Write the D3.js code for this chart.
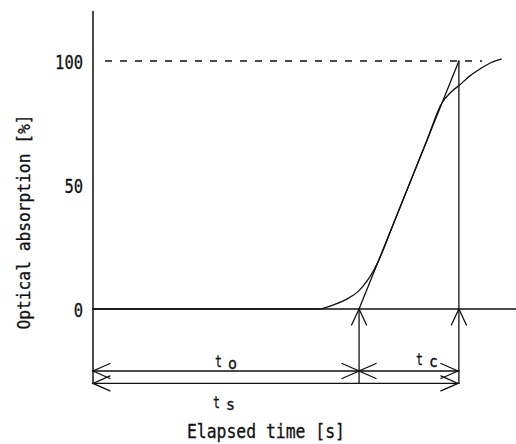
<!DOCTYPE html>
<html>
<head>
<meta charset="utf-8">
<script src="https://cdn.jsdelivr.net/npm/d3@7"></script>
<style>
  html, body { margin: 0; padding: 0; background: #fff; }
  svg { display: block; }
  text { font-family: "DejaVu Sans Mono", monospace; fill: #111; }
</style>
</head>
<body>
<svg id="chart" width="516" height="444"></svg>
<script>
// ---- data ----
const yTicks = [0, 50, 100];
// elapsed time (arbitrary units) and optical absorption [%] of the measured curve
const curveTime = [0, 53.2, 56.7, 60.0, 62.6, 64.8, 66.4, 67.6, 71.0, 74.9, 78.7, 82.5, 84.6, 86.8, 89.1, 91.5, 93.9, 96.5];
const curveAbs  = [0, 0,    1.6,  4.0,  6.9,  11.3, 15.7, 19.8, 34.2, 50.8, 66.9, 83.1, 87.4, 90.5, 94.0, 96.8, 99.2, 100.8];
// tangent line through the linear part
const tangentTime = [62.9, 86.5];
const tangentAbs  = [0, 100];
// characteristic times
const tO = 62.9;   // end of t_o
const tC = 86.5;   // end of t_c (= end of t_s)
const saturation = 100;
const labels = { yTitle: "Optical absorption [%]", xTitle: "Elapsed time [s]" };

// ---- layout ----
const svg = d3.select("#chart");
const x = d3.scaleLinear().domain([0, 100]).range([93, 516]);
const y = d3.scaleLinear().domain([-30, 120]).range([383.4, 11.4]);
const ink = "#111";
const sw = 1.3;

const g = svg.append("g").attr("fill", "none").attr("stroke", ink).attr("stroke-width", sw).attr("stroke-linecap", "round");

// y axis labels (no tick marks)
const yAxis = d3.axisLeft(y).tickValues(yTicks).tickSize(0).tickPadding(10).tickFormat(d3.format("d"));
const ag = svg.append("g").attr("transform", `translate(${x(0)},0)`).call(yAxis);
ag.select(".domain").remove();
ag.selectAll("text")
  .attr("font-family", "DejaVu Sans Mono, monospace")
  .attr("font-size", 19)
  .attr("fill", ink)
  .attr("stroke", ink).attr("stroke-width", 0.3)
  .attr("dy", "0.38em")
  .attr("textLength", d => String(d).length * 9.3)
  .attr("lengthAdjust", "spacingAndGlyphs");

// vertical axis line
g.append("line").attr("x1", x(0)).attr("x2", x(0)).attr("y1", y(120)).attr("y2", y(-30)).attr("stroke-width", 1.5);
// zero line
g.append("line").attr("x1", x(0)).attr("x2", x(100)).attr("y1", y(0)).attr("y2", y(0));
// dashed 100% line
g.append("line").attr("x1", x(0) + 12).attr("x2", x(92)).attr("y1", y(saturation)).attr("y2", y(saturation))
  .attr("stroke-dasharray", "7,8").attr("stroke-linecap", "butt");

// curve
const pts = curveTime.map((t, i) => [t, curveAbs[i]]);
g.append("path").datum(pts)
  .attr("d", d3.line().x(d => x(d[0])).y(d => y(d[1])).curve(d3.curveMonotoneX));

// tangent
const tp = tangentTime.map((t, i) => [t, tangentAbs[i]]);
g.append("path").datum(tp).attr("d", d3.line().x(d => x(d[0])).y(d => y(d[1])));

// vertical markers
const yO = y(-25), yS = y(-30);
g.append("line").attr("x1", x(tO)).attr("x2", x(tO)).attr("y1", y(0)).attr("y2", yS);
g.append("line").attr("x1", x(tC)).attr("x2", x(tC)).attr("y1", y(saturation)).attr("y2", yS);

// up arrows at the zero line
function upArrow(px, py) {
  g.append("path").attr("d", `M${px - 7.5},${py + 16} L${px},${py} L${px + 7.5},${py + 16}`);
}
upArrow(x(tO), y(0));
upArrow(x(tC), y(0));

// horizontal dimension lines
g.append("line").attr("x1", x(0)).attr("x2", x(tO)).attr("y1", yO).attr("y2", yO);
g.append("line").attr("x1", x(tO)).attr("x2", x(tC)).attr("y1", yO).attr("y2", yO);
g.append("line").attr("x1", x(0)).attr("x2", x(tC)).attr("y1", yS).attr("y2", yS);

function hArrow(px, py, dir) { // dir = -1 points left, +1 points right
  const bx = px - dir * 17;
  g.append("path").attr("d", `M${bx},${py - 7.5} L${px},${py} L${bx},${py + 7.5}`);
}
hArrow(x(0), yO, -1);
hArrow(x(0), yS, -1);
hArrow(x(tO), yO, 1);
hArrow(x(tO), yO, -1);
hArrow(x(tC) - 1, yO, 1);
hArrow(x(tC) - 1, yS, 1);

// dimension labels
function tLabel(px, py, sub) {
  svg.append("text").attr("x", px).attr("y", py).attr("font-size", 16)
    .attr("stroke", ink).attr("stroke-width", 0.3)
    .attr("textLength", 7).attr("lengthAdjust", "spacingAndGlyphs").text("t");
  svg.append("text").attr("x", px + 13).attr("y", py + 1.5).attr("font-size", 15)
    .attr("stroke", ink).attr("stroke-width", 0.3)
    .attr("textLength", 9).attr("lengthAdjust", "spacingAndGlyphs").text(sub);
}
tLabel(215, 367, "o");
tLabel(213, 408, "s");
tLabel(416, 365, "c");

// axis titles
svg.append("text").attr("transform", "translate(30,222) rotate(-90)")
  .attr("text-anchor", "middle").attr("font-size", 18)
  .attr("stroke", ink).attr("stroke-width", 0.3)
  .attr("textLength", 215).attr("lengthAdjust", "spacingAndGlyphs")
  .text(labels.yTitle);
svg.append("text").attr("x", 187).attr("y", 438).attr("font-size", 19)
  .attr("stroke", ink).attr("stroke-width", 0.3)
  .attr("textLength", 158).attr("lengthAdjust", "spacingAndGlyphs")
  .text(labels.xTitle);
</script>
</body>
</html>
